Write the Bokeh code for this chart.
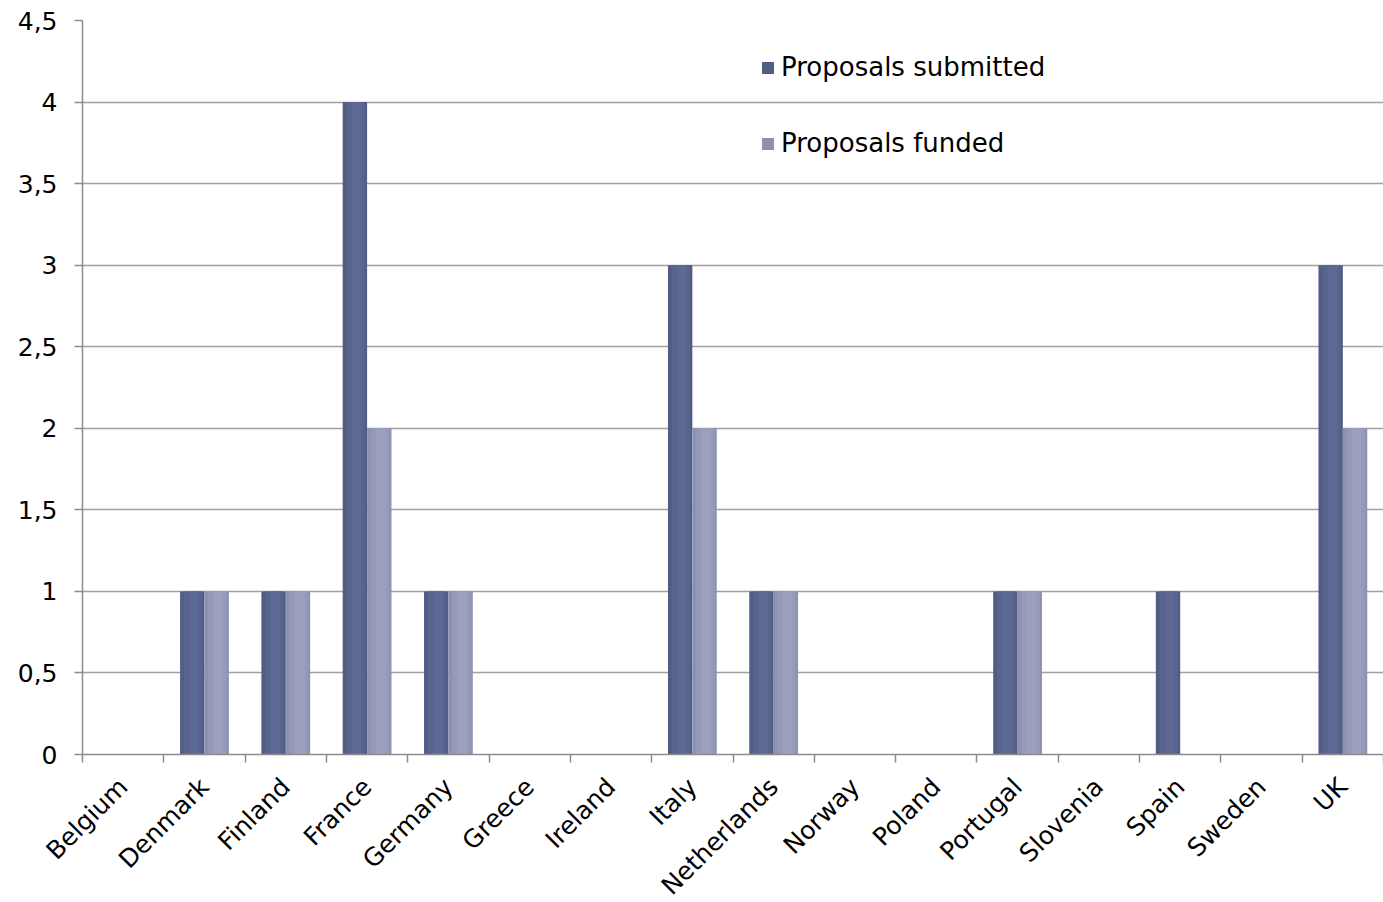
import math
from bokeh.plotting import figure
from bokeh.models import FixedTicker, CustomJSTickFormatter, Range1d, Legend, LegendItem, LinearAxis
from bokeh.embed import file_html
from bokeh.resources import INLINE

countries = ["Belgium", "Denmark", "Finland", "France", "Germany", "Greece", "Ireland",
             "Italy", "Netherlands", "Norway", "Poland", "Portugal", "Slovenia", "Spain",
             "Sweden", "UK"]
submitted = [0, 1, 1, 4, 1, 0, 0, 3, 1, 0, 0, 1, 0, 1, 0, 3]
funded = [0, 1, 1, 2, 1, 0, 0, 2, 1, 0, 0, 1, 0, 0, 0, 2]
y_ticks = [0, 0.5, 1, 1.5, 2, 2.5, 3, 3.5, 4, 4.5]

FONT = "DejaVu Sans"
C_SUB = ["#525d85", "#58638e", "#5d6894"]
C_FUN = ["#8d92b0", "#959ab8", "#9ca0bd"]
GRID = "#a0a0a0"
AX = "#8c8c8c"

n = len(countries)
centers = [i + 0.5 for i in range(n)]
x_sub = [c - 0.15 for c in centers]
x_fun = [c + 0.15 for c in centers]

p = figure(width=1383, height=902, output_backend="svg", toolbar_location=None,
           x_range=Range1d(0, n), y_range=Range1d(0, 4.5),
           frame_width=1301, frame_height=734,
           min_border_left=82, min_border_top=20, min_border_right=0, min_border_bottom=148,
           x_axis_type=None)
p.outline_line_color = None
p.background_fill_color = "white"

bw = 0.3
# subtle gradient: full bar, then narrower lighter layers
r_sub = p.vbar(x=x_sub, top=submitted, width=bw, bottom=0, fill_color=C_SUB[0], line_color=None)
p.vbar(x=[x + 0.01 for x in x_sub], top=submitted, width=bw * 0.75, bottom=0, fill_color=C_SUB[1], line_color=None)
p.vbar(x=[x + 0.02 for x in x_sub], top=submitted, width=bw * 0.4, bottom=0, fill_color=C_SUB[2], line_color=None)
r_fun = p.vbar(x=x_fun, top=funded, width=bw, bottom=0, fill_color=C_FUN[0], line_color=None)
p.vbar(x=[x + 0.01 for x in x_fun], top=funded, width=bw * 0.75, bottom=0, fill_color=C_FUN[1], line_color=None)
p.vbar(x=[x + 0.02 for x in x_fun], top=funded, width=bw * 0.4, bottom=0, fill_color=C_FUN[2], line_color=None)

# y axis
yax = p.yaxis[0]
yax.ticker = FixedTicker(ticks=y_ticks, minor_ticks=[])
yax.formatter = CustomJSTickFormatter(code="return String(tick).replace('.', ',');")
yax.axis_line_color = AX
yax.axis_line_width = 1.5
yax.major_tick_line_color = AX
yax.major_tick_line_width = 1.5
yax.major_tick_out = 8
yax.major_tick_in = 0
yax.minor_tick_line_color = None
yax.major_label_text_font = FONT
yax.major_label_text_font_size = "25px"
yax.major_label_text_color = "black"
yax.major_label_standoff = 17

p.ygrid.ticker = FixedTicker(ticks=y_ticks[1:])
p.ygrid.grid_line_color = GRID
p.ygrid.grid_line_width = 1.5
p.xgrid.grid_line_color = None

# x axis: boundary ticks (minor), names centred (major)
xax = LinearAxis(ticker=FixedTicker(ticks=centers, minor_ticks=list(range(n + 1))),
                 major_label_overrides={c: name for c, name in zip(centers, countries)})
xax.axis_line_color = AX
xax.axis_line_width = 1.5
xax.major_tick_line_color = None
xax.major_tick_out = 0
xax.major_tick_in = 0
xax.minor_tick_line_color = AX
xax.minor_tick_line_width = 1.5
xax.minor_tick_out = 8
xax.minor_tick_in = 0
xax.major_label_orientation = math.pi / 4
xax.major_label_text_font = FONT
xax.major_label_text_font_size = "25px"
xax.major_label_text_color = "black"
xax.major_label_standoff = 20
p.add_layout(xax, "below")

legend = Legend(items=[LegendItem(label="Proposals submitted", renderers=[r_sub]),
                       LegendItem(label="Proposals funded", renderers=[r_fun])],
                location=(678, 596))
legend.border_line_color = None
legend.background_fill_alpha = 0
legend.padding = 0
legend.margin = 0
legend.spacing = 46
legend.label_height = 28
legend.glyph_width = 15
legend.glyph_height = 15
legend.label_text_font = FONT
legend.label_text_font_size = "26px"
legend.label_text_color = "black"
legend.label_standoff = 6
p.add_layout(legend, "center")

open("out.html", "w").write(file_html(p, INLINE))
